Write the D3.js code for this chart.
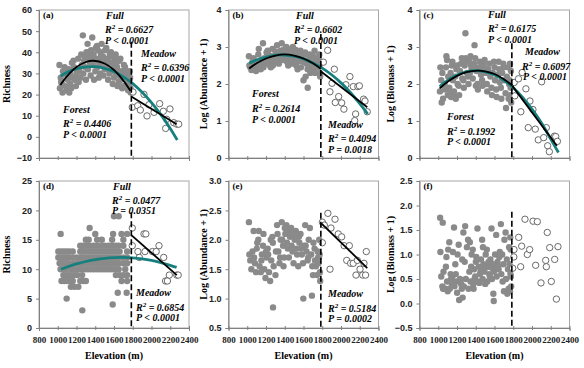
<!DOCTYPE html>
<html><head><meta charset="utf-8">
<script src="https://cdn.jsdelivr.net/npm/d3@7"></script>
<style>body{margin:0;background:#fff}svg{display:block}</style>
</head><body>
<svg id="c" width="584" height="368"></svg>
<script>
// ---------- data ----------
const elevTicks=[800,1000,1200,1400,1600,1800,2000,2200,2400];
const ticksA=[-10,0,10,20,30,40,50,60];
const ticksB=[0,1,2,3,4];
const ticksC=[0,1,2,3,4];
const ticksD=[0,5,10,15,20,25];
const ticksE=[0.5,1.0,1.5,2.0,2.5,3.0];
const ticksF=[-0.5,0.0,0.5,1.0,1.5,2.0,2.5];
const boundary=1785;

const forestA=[[1018,34],[1056,31],[1032,28],[1044,25],[1023,23],[1051,21],[1037,26],
[1068,30],[1106,27],[1082,24],[1094,22],[1073,33],[1101,29],
[1118,32],[1156,28],[1132,25],[1144,23],[1123,21],[1151,35],[1137,30],
[1168,36],[1206,31],[1182,27],[1194,24],[1173,33],[1201,29],
[1218,37],[1256,34],[1232,31],[1244,28],[1223,26],[1251,39],
[1268,48],[1306,40],[1282,36],[1294,33],[1273,30],[1301,27],[1287,38],
[1318,44],[1356,41],[1332,38],[1344,35],[1323,32],[1351,29],[1337,37],[1327,40],
[1368,47],[1406,42],[1382,39],[1394,36],[1373,34],[1401,31],[1387,27],[1377,38],
[1418,43],[1456,40],[1432,37],[1444,35],[1423,33],[1451,30],[1437,28],[1427,41],[1462,38],
[1468,44],[1506,41],[1482,38],[1494,36],[1473,34],[1501,32],[1487,29],[1477,37],
[1518,42],[1556,39],[1532,37],[1544,35],[1523,33],[1551,30],[1537,27],[1527,36],
[1568,40],[1606,37],[1582,35],[1594,33],[1573,31],[1601,28],[1587,25],[1577,38],
[1618,39],[1656,36],[1632,33],[1644,31],[1623,29],[1651,26],[1637,24],[1627,35],
[1668,37],[1706,34],[1682,31],[1694,29],[1673,27],[1701,24],[1687,23],
[1718,33],[1756,30],[1732,28],[1744,26],[1723,24],[1751,22],[1737,31],
[1768,31],[1772,28],[1760,25],[1775,23],[1778,21],[1765,27]];
const meadowA=[[1803,21.2],[1795,14],[1853,14.7],[1881,12.7],[1920,20.1],[1952,9.9],[1973,15.2],[2027,11.6],[2087,15.7],[2126,12.1],[2162,8.3],[2197,13.2],[2151,4],[2237,6.7],[2270,6],[2290,6]];
const fullFitA=[[1030,28.8],[1100,30.5],[1200,32.2],[1300,33.1],[1400,33.2],[1500,32.4],[1600,30.9],[1700,28.4],[1800,25.2],[1900,21.1],[2000,16.2],[2100,10.5],[2200,4],[2275,-1.5]];
const forestFitA=[[1028,24.5],[1100,28.7],[1200,33],[1300,35.4],[1380,36],[1500,34.7],[1600,31.6],[1700,26.6],[1775,21.8]];
const meadowFitA=[[1788,19],[2268,6]];

const forestB=[[1018,2.75],[1056,2.6],[1032,2.45],[1044,2.38],[1023,2.5],
[1068,2.7],[1106,2.55],[1082,2.42],[1094,2.35],[1073,2.62],
[1118,2.8],[1156,2.65],[1132,2.5],[1144,2.4],[1123,2.95],[1151,2.58],
[1168,3.1],[1206,2.85],[1182,2.7],[1194,2.55],[1173,2.45],[1201,2.62],
[1218,2.9],[1256,2.75],[1232,2.6],[1244,2.5],[1223,2.82],[1251,2.45],
[1268,2.95],[1306,2.8],[1282,2.7],[1294,2.6],[1273,2.5],[1301,2.88],
[1318,3.05],[1356,2.9],[1332,2.8],[1344,2.7],[1323,2.6],[1351,2.75],[1337,2.55],
[1368,3.1],[1406,2.95],[1382,2.85],[1394,2.75],[1373,2.65],[1401,2.8],[1387,2.92],
[1418,3.0],[1456,2.9],[1432,2.8],[1444,2.7],[1423,2.6],[1451,2.85],[1437,2.5],
[1468,2.95],[1506,2.85],[1482,2.75],[1494,2.65],[1473,2.55],[1501,2.8],[1487,3.0],
[1518,2.92],[1556,2.82],[1532,2.72],[1544,2.62],[1523,2.5],[1551,2.78],[1537,2.4],
[1568,2.9],[1606,2.8],[1582,2.7],[1594,2.6],[1573,2.45],[1600,2.1],[1587,2.75],
[1618,2.85],[1656,2.7],[1632,2.55],[1644,2.4],[1623,2.2],[1645,1.9],[1637,2.62],
[1668,2.8],[1706,2.65],[1682,2.5],[1694,2.35],[1673,2.3],[1701,2.75],
[1718,2.9],[1756,2.7],[1732,2.55],[1744,2.45],[1723,2.3],[1751,2.6],
[1768,2.8],[1772,2.6],[1760,2.45],[1775,2.3],[1778,2.2],[1765,2.65],[1770,2.5]];
const meadowB=[[1812,2.59],[1858,2.91],[1882,1.79],[1904,2.02],[1929,2.4],[1939,1.5],[1975,1.66],[2007,1.49],[2031,1.32],[2052,1.98],[2095,2.2],[2146,1.01],[2156,1.19],[2131,1.93],[2180,1.93],[2196,1.95],[2241,1.59],[2256,1.54],[2280,1.25]];
const fullFitB=[[1020,2.56],[1100,2.65],[1200,2.73],[1300,2.78],[1400,2.78],[1500,2.75],[1600,2.68],[1700,2.57],[1800,2.43],[1900,2.25],[2000,2.03],[2100,1.77],[2200,1.47],[2285,1.19]];
const forestFitB=[[1020,2.42],[1100,2.56],[1200,2.69],[1300,2.77],[1400,2.8],[1500,2.77],[1600,2.69],[1700,2.56],[1785,2.41]];
const meadowFitB=[[1790,2.33],[2280,1.37]];

const forestC=[[1018,1.8],[1056,1.95],[1032,2.1],[1044,2.3],[1023,2.45],[1051,1.6],[1037,1.5],
[1068,2.0],[1106,2.2],[1082,2.45],[1094,2.65],[1073,1.85],[1101,1.7],[1087,2.75],
[1118,1.9],[1156,2.1],[1132,2.3],[1144,2.5],[1123,1.75],[1151,2.6],[1137,1.65],
[1168,1.8],[1206,2.0],[1182,2.2],[1194,2.4],[1173,1.65],[1201,2.5],[1187,1.6],
[1218,1.95],[1256,2.15],[1232,2.35],[1244,2.55],[1223,1.7],[1251,2.7],
[1268,2.1],[1306,2.3],[1282,2.5],[1294,2.7],[1273,1.9],[1290,3.37],[1287,2.6],
[1318,2.2],[1356,2.4],[1332,2.6],[1344,2.75],[1323,2.0],[1351,2.5],[1337,2.3],
[1368,2.15],[1406,2.35],[1382,2.55],[1394,2.7],[1387,3.05],[1401,1.95],[1377,2.45],
[1418,2.0],[1456,2.25],[1432,2.45],[1444,2.6],[1423,1.85],[1451,2.35],
[1468,2.1],[1506,2.3],[1482,2.5],[1494,2.65],[1473,1.95],[1501,2.4],
[1518,2.0],[1556,2.2],[1532,2.4],[1544,2.55],[1523,1.8],[1551,2.3],
[1568,1.9],[1606,2.1],[1582,2.3],[1594,2.6],[1573,1.7],[1601,2.45],
[1618,1.85],[1656,2.05],[1632,2.25],[1644,2.6],[1623,1.65],[1651,2.4],
[1668,1.9],[1706,2.1],[1682,2.3],[1694,2.55],[1673,1.6],[1701,2.45],
[1718,1.75],[1756,2.0],[1732,2.2],[1744,2.45],[1723,1.35],[1751,1.6],
[1768,1.7],[1772,1.9],[1760,2.1],[1775,2.35],[1778,1.5],[1765,2.55]];
const meadowC=[[1810,2.04],[1817,1.68],[1856,2.14],[1895,2.31],[1935,1.87],[1881,1.25],[1960,0.82],[1978,1.54],[2010,1.31],[2035,0.78],[2067,0.49],[2103,2.06],[2125,0.55],[2153,0.82],[2167,0.33],[2185,0.17],[2239,0.59],[2253,0.58],[2271,0.45]];
const fullFitC=[[1015,1.93],[1100,2.1],[1200,2.24],[1300,2.33],[1400,2.36],[1500,2.33],[1600,2.25],[1700,2.1],[1800,1.9],[1900,1.64],[2000,1.32],[2100,0.95],[2200,0.51],[2282,0.15]];
const forestFitC=[[1015,1.88],[1100,2.06],[1200,2.22],[1300,2.32],[1420,2.36],[1500,2.34],[1600,2.27],[1700,2.13],[1790,1.96]];
const meadowFitC=[[1790,1.95],[2265,0.33]];

const forestD=[[1340,17],[1600,19],[1650,19],
[1031,16],[1400,16],[1590,16],[1680,16],[1740,16],
[1300,15],[1330,15],[1420,15],[1470,15],[1580,15],[1700,15],
[1240,14],[1270,14],[1300,14],[1340,14],[1380,14],[1420,14],[1460,14],[1500,14],[1540,14],[1580,14],[1620,14],[1650,14],[1700,14],
[1006,13],[1035,13],[1065,13],[1095,13],[1125,13],[1160,13],[1240,13],[1270,13],[1300,13],[1330,13],[1360,13],[1390,13],[1420,13],[1450,13],[1480,13],[1510,13],[1540,13],[1570,13],[1600,13],[1630,13],[1660,13],[1740,13],
[1006,12],[1035,12],[1065,12],[1095,12],[1125,12],[1160,12],[1200,12],[1240,12],[1270,12],[1300,12],[1330,12],[1360,12],[1390,12],[1420,12],[1450,12],[1480,12],[1510,12],[1540,12],[1570,12],[1600,12],[1630,12],[1660,12],[1700,12],[1740,12],
[1020,11],[1050,11],[1080,11],[1110,11],[1160,11],[1200,11],[1230,11],[1260,11],[1290,11],[1320,11],[1350,11],[1380,11],[1410,11],[1440,11],[1470,11],[1500,11],[1530,11],[1560,11],[1590,11],[1620,11],[1650,11],[1700,11],[1740,11],
[1030,10],[1060,10],[1090,10],[1140,10],[1170,10],[1200,10],[1230,10],[1260,10],[1290,10],[1320,10],[1350,10],[1380,10],[1410,10],[1440,10],[1470,10],[1500,10],[1530,10],[1560,10],[1590,10],[1620,10],[1650,10],[1720,10],
[1060,9],[1090,9],[1120,9],[1150,9],[1180,9],[1210,9],[1260,9],[1620,9],[1660,9],[1700,9],[1740,9],
[1040,8],[1070,8],[1100,8],[1130,8],[1160,8],[1240,8],[1270,8],[1300,8],[1680,8],[1740,8],
[1140,7],[1180,7],[1220,7],
[1640,6],[1735,6],[1095,5],[1586,4],[1262,3]];
const meadowD=[[1795,17],[1795,14],[1855,13],[1870,12],[1920,16],[1940,16],[1930,13],[2010,13],[2050,13],[2080,14],[2130,12],[2150,8],[2170,8],[2190,9],[2270,9],[2285,9]];
const fullFitD=[[1035,10],[1100,10.38],[1200,10.9],[1300,11.31],[1400,11.63],[1500,11.85],[1600,11.97],[1700,12],[1800,11.93],[1900,11.76],[2000,11.49],[2100,11.12],[2200,10.66],[2268,10.3]];
const meadowFitD=[[1785,15.8],[2270,9]];

const forestE=[[1018,2.3],[1056,1.8],[1032,1.65],[1044,1.5],[1023,1.75],
[1068,2.15],[1106,1.95],[1082,1.6],[1094,1.45],[1073,1.7],[1101,1.85],
[1118,2.0],[1156,1.75],[1132,1.55],[1144,1.45],[1123,2.15],[1151,1.65],
[1168,1.9],[1206,1.7],[1182,1.5],[1194,1.35],[1173,2.1],[1201,1.8],
[1218,1.85],[1256,1.65],[1232,1.45],[1244,1.3],[1223,1.75],[1251,2.0],
[1268,2.05],[1306,1.8],[1282,1.55],[1275,0.85],[1273,1.95],[1301,1.4],
[1318,2.25],[1356,2.0],[1332,1.8],[1344,1.6],[1323,2.1],[1351,1.7],
[1368,2.3],[1406,2.1],[1382,1.9],[1394,1.7],[1373,2.0],[1401,2.2],[1387,1.55],
[1418,2.25],[1456,2.05],[1432,1.85],[1444,1.7],[1423,1.95],[1451,2.15],
[1468,2.2],[1506,2.0],[1482,1.8],[1494,1.6],[1473,1.9],[1501,2.1],
[1518,2.15],[1556,1.95],[1532,1.75],[1544,1.55],[1523,1.85],[1551,2.05],
[1568,2.1],[1606,1.9],[1582,1.75],[1594,1.6],[1573,1.85],[1598,1.0],
[1618,2.25],[1656,2.0],[1632,1.8],[1644,1.65],[1623,1.9],[1651,1.7],
[1668,2.2],[1706,1.95],[1682,1.75],[1694,1.55],[1690,1.05],[1701,1.4],
[1718,1.85],[1756,1.7],[1732,1.55],[1744,1.4],[1723,1.65],[1751,1.8],
[1768,2.0],[1772,1.75],[1760,1.6],[1775,1.45],[1778,1.3],[1765,1.7]];
const meadowE=[[1801,2.3],[1801,1.95],[1822,2.25],[1860,2.45],[1883,1.5],[1893,2.2],[1936,2.35],[1971,2.1],[2007,2.05],[2033,1.9],[2061,1.65],[2089,1.9],[2103,1.6],[2131,1.6],[2160,1.4],[2174,1.65],[2203,1.5],[2232,1.4],[2245,1.6],[2270,1.8],[2262,1.4]];
const meadowFitE=[[1790,2.28],[2280,1.52]];

const forestF=[[1020,1.75],[1056,0.65],[1032,0.55],[1044,0.35],[1023,1.05],[1051,0.3],
[1048,1.65],[1106,1.1],[1082,0.75],[1094,0.45],[1073,0.3],[1101,0.25],[1087,0.95],
[1118,1.25],[1156,1.05],[1132,0.6],[1144,0.4],[1123,0.3],[1151,0.55],[1137,0.5],
[1168,1.55],[1206,1.0],[1182,0.8],[1194,0.45],[1173,0.35],[1201,0.22],[1187,0.6],
[1218,1.2],[1256,0.9],[1232,0.5],[1244,0.4],[1223,0.07],[1251,0.3],[1237,0.48],
[1268,1.45],[1306,1.15],[1282,0.85],[1294,0.5],[1273,0.35],[1260,0.12],[1287,1.58],
[1318,1.3],[1356,1.0],[1332,0.65],[1344,0.45],[1323,0.3],[1351,0.75],[1337,1.25],
[1368,1.1],[1406,0.95],[1382,0.7],[1394,0.55],[1373,0.4],[1401,0.85],[1387,0.5],[1377,0.3],
[1418,1.53],[1456,0.9],[1432,0.75],[1444,0.6],[1423,0.45],[1451,0.65],[1437,0.42],
[1468,1.3],[1506,1.0],[1482,0.8],[1494,0.65],[1473,0.5],[1501,0.4],[1487,0.7],[1477,1.15],
[1518,1.1],[1556,0.9],[1532,0.75],[1544,0.6],[1523,0.45],[1551,0.55],[1537,0.85],
[1568,1.53],[1606,1.0],[1582,0.8],[1594,0.65],[1573,0.5],[1588,0.2],[1592,0.05],[1577,0.72],
[1618,1.4],[1656,1.05],[1632,0.85],[1644,0.7],[1623,0.55],[1651,0.95],[1637,0.75],
[1668,1.62],[1706,1.3],[1682,1.0],[1694,0.8],[1673,0.6],[1701,0.25],[1687,0.45],
[1718,1.45],[1756,1.15],[1732,0.9],[1744,0.7],[1723,0.5],[1751,0.3],[1737,0.2],
[1768,1.35],[1772,1.1],[1760,0.8],[1775,0.55],[1778,0.35],[1765,0.25],[1770,0.6]];
const meadowF=[[1808,1.1],[1806,0.95],[1794,0.72],[1858,1.35],[1890,1.17],[1879,0.75],[1925,1.72],[1950,1.0],[1975,1.1],[2011,1.68],[2057,1.67],[2039,0.78],[2096,0.42],[2146,0.88],[2153,0.75],[2163,1.45],[2189,1.14],[2206,0.45],[2242,0.9],[2260,0.09],[2277,1.16]];

// ---------- layout ----------
const TEAL='#17807e', GREY='#8a8a8a';
const svg=d3.select('#c');
const panels=[
 {lab:'(a)',x:39,y:10,w:150,h:148,dom:[-10,60],ticks:ticksA,fmt:d3.format('d'),forest:forestA,meadow:meadowA,
  fits:[[fullFitA,TEAL,2.8],[forestFitA,'#000',1.8],[meadowFitA,'#000',1.8]],dashTop:45,ylab:'Richness',ylx:8,xl:false,
  txt:[['Full',106,19],['R',105,33,'0.6627'],['P < 0.0001',105,44],['Meadow',141,57],['R',141,71,'0.6396'],['P < 0.0001',141,82],
       ['Forest',63,113],['R',63,127,'0.4406'],['P < 0.0001',63,138]]},
 {lab:'(b)',x:228.5,y:10,w:150,h:148,dom:[0,4],ticks:ticksB,fmt:d3.format('d'),forest:forestB,meadow:meadowB,
  fits:[[fullFitB,TEAL,2.8],[forestFitB,'#000',1.8],[meadowFitB,'#000',1.8]],dashTop:3.35,ylab:'Log (Abundance + 1)',ylx:205,xl:false,
  txt:[['Full',296,19],['R',294,33,'0.6602'],['P < 0.0001',294,44],['Forest',252,97],['R',252,112,'0.2614'],['P < 0.0001',252,123],
       ['Meadow',328,128],['R',328,142,'0.4094'],['P = 0.0018',328,153]]},
 {lab:'(c)',x:419.5,y:10,w:150,h:148,dom:[0,4],ticks:ticksC,fmt:d3.format('d'),forest:forestC,meadow:meadowC,
  fits:[[fullFitC,TEAL,2.8],[forestFitC,'#000',1.8],[meadowFitC,'#000',1.8]],dashTop:3.1,ylab:'Log (Biomass + 1)',ylx:392,xl:false,
  txt:[['Full',488,18],['R',488,32,'0.6175'],['P < 0.0001',488,43],['Meadow',525,55],['R',522,70,'0.6097'],['P < 0.0001',523,80],
       ['Forest',447,120],['R',447,135,'0.1992'],['P < 0.0001',447,145]]},
 {lab:'(d)',x:39,y:181,w:150,h:147,dom:[0,25],ticks:ticksD,fmt:d3.format('d'),forest:forestD,meadow:meadowD,
  fits:[[fullFitD,TEAL,2.8],[meadowFitD,'#000',1.8]],dashTop:19.7,ylab:'Richness',ylx:8,xl:true,
  txt:[['Full',113,190],['R',112,204,'0.0477'],['P = 0.0351',112,214],['Meadow',136,296],['R',136,311,'0.6854'],['P < 0.0001',136,321]]},
 {lab:'(e)',x:228.5,y:181,w:150,h:147,dom:[0.5,3],ticks:ticksE,fmt:d3.format('.1f'),forest:forestE,meadow:meadowE,
  fits:[[meadowFitE,'#000',1.8]],dashTop:2.46,ylab:'Log (Abundance + 1)',ylx:205,xl:true,
  txt:[['Meadow',328,297],['R',328,312,'0.5184'],['P = 0.0002',328,322]]},
 {lab:'(f)',x:419.5,y:181,w:150,h:147,dom:[-0.5,2.5],ticks:ticksF,fmt:d3.format('.1f'),forest:forestF,meadow:meadowF,
  fits:[],dashTop:1.87,ylab:'Log (Biomass + 1)',ylx:392,xl:true,txt:[]}
];

const serif='"Liberation Serif","Times New Roman",serif';
const sans='"Liberation Sans",Arial,sans-serif';

panels.forEach(p=>{
  const xs=d3.scaleLinear().domain([800,2400]).range([p.x,p.x+p.w]);
  const ys=d3.scaleLinear().domain(p.dom).range([p.y+p.h,p.y]);
  const g=svg.append('g');
  // frame
  g.append('rect').attr('x',p.x).attr('y',p.y).attr('width',p.w).attr('height',p.h)
   .attr('fill','none').attr('stroke','#a6a6a6').attr('stroke-width',1);
  // axes
  const xa=g.append('g').attr('transform',`translate(0,${p.y+p.h})`)
    .call(d3.axisBottom(xs).tickValues(elevTicks).tickSize(3).tickPadding(4).tickFormat(p.xl?d3.format('d'):''));
  xa.select('.domain').attr('stroke','#808080');
  xa.selectAll('line').attr('stroke','#808080').attr('y1',-2).attr('y2',2);
  xa.selectAll('text').attr('font-family',serif).attr('font-weight','bold').attr('font-size',9).attr('fill','#222').attr('dy','0.9em');
  const ya=g.append('g').attr('transform',`translate(${p.x},0)`)
    .call(d3.axisLeft(ys).tickValues(p.ticks).tickSize(3).tickPadding(4).tickFormat(p.fmt));
  ya.select('.domain').attr('stroke','#808080');
  ya.selectAll('line').attr('stroke','#808080');
  ya.selectAll('text').attr('font-family',sans).attr('font-weight','bold').attr('font-size',9).attr('fill','#222');
  // points
  g.selectAll('.f').data(p.forest).join('circle').attr('cx',d=>xs(d[0])).attr('cy',d=>ys(d[1])).attr('r',3.2).attr('fill',GREY);
  g.selectAll('.m').data(p.meadow).join('circle').attr('cx',d=>xs(d[0])).attr('cy',d=>ys(d[1])).attr('r',3.2)
    .attr('fill','#fff').attr('stroke','#5a5a5a').attr('stroke-width',0.9);
  // fits
  const line=d3.line().x(d=>xs(d[0])).y(d=>ys(d[1])).curve(d3.curveCatmullRom);
  p.fits.forEach(f=>{
    g.append('path').attr('d',line(f[0])).attr('fill','none').attr('stroke',f[1]).attr('stroke-width',f[2]);
  });
  // boundary
  g.append('line').attr('x1',xs(boundary)).attr('x2',xs(boundary)).attr('y1',ys(p.dashTop)).attr('y2',ys(p.dom[0]))
   .attr('stroke','#000').attr('stroke-width',1.6).attr('stroke-dasharray','6,3');
  // panel label
  g.append('text').attr('x',p.x+4).attr('y',p.y+8).text(p.lab)
   .attr('font-family',serif).attr('font-weight','bold').attr('font-size',9);
  // annotations
  p.txt.forEach(t=>{
    const tx=g.append('text').attr('x',t[1]).attr('y',t[2]).attr('font-family',serif).attr('font-weight','bold')
      .attr('font-style','italic').attr('font-size',10);
    if(t[3]){
      tx.append('tspan').text('R');
      tx.append('tspan').text('2').attr('font-size',7).attr('dy',-4);
      tx.append('tspan').text(' = '+t[3]).attr('dy',4);
    } else tx.text(t[0]);
  });
  // y label
  g.append('text').attr('transform',`translate(${p.ylx},${p.y+p.h/2}) rotate(-90)`).attr('text-anchor','middle')
   .attr('dominant-baseline','middle').text(p.ylab)
   .attr('font-family',serif).attr('font-weight','bold').attr('font-size',10);
  if(p.xl){
    g.append('text').attr('x',p.x+p.w/2).attr('y',359).attr('text-anchor','middle').text('Elevation (m)')
     .attr('font-family',serif).attr('font-weight','bold').attr('font-size',10);
  }
});
</script>
</body></html>
